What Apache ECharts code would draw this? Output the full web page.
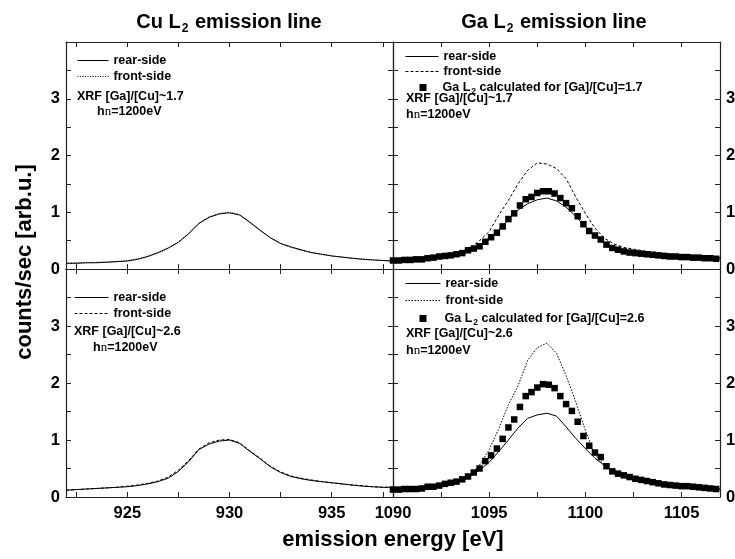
<!DOCTYPE html>
<html>
<head>
<meta charset="utf-8">
<script src="https://cdn.jsdelivr.net/npm/echarts@6/dist/echarts.min.js"></script>
<style>
  html, body { margin: 0; padding: 0; background: #fff; }
  #chart { width: 735px; height: 559px; }
</style>
</head>
<body>
<div id="chart"></div>
<script>
// Cu L2 panels (left)
const cuEnergy = [922, 922.5, 923, 923.5, 924, 924.5, 925, 925.5, 926, 926.5, 927, 927.5, 928, 928.5, 929, 929.5,
    930, 930.5, 931, 931.5, 932, 932.5, 933, 933.5, 934, 934.5, 935, 935.5, 936, 936.5, 937, 937.5, 938];
const cuRear17 = [0.10, 0.10, 0.11, 0.11, 0.12, 0.13, 0.14, 0.17, 0.22, 0.29, 0.37, 0.47, 0.62, 0.80, 0.91, 0.97,
    0.99, 0.95, 0.82, 0.68, 0.55, 0.45, 0.39, 0.34, 0.29, 0.26, 0.23, 0.21, 0.19, 0.17, 0.16, 0.15, 0.14];
const cuFront17 = [0.10, 0.11, 0.11, 0.12, 0.12, 0.13, 0.15, 0.18, 0.22, 0.28, 0.36, 0.48, 0.63, 0.81, 0.92, 0.98,
    1.00, 0.96, 0.83, 0.69, 0.55, 0.45, 0.38, 0.33, 0.29, 0.26, 0.23, 0.21, 0.19, 0.18, 0.16, 0.15, 0.14];
const cuRear26 = [0.12, 0.13, 0.14, 0.15, 0.16, 0.17, 0.18, 0.20, 0.23, 0.27, 0.33, 0.45, 0.62, 0.83, 0.93, 0.98,
    1.00, 0.94, 0.80, 0.67, 0.53, 0.43, 0.36, 0.32, 0.29, 0.27, 0.25, 0.23, 0.21, 0.19, 0.18, 0.17, 0.17];
const cuFront26 = [0.12, 0.13, 0.14, 0.15, 0.16, 0.17, 0.19, 0.21, 0.24, 0.28, 0.35, 0.47, 0.64, 0.84, 0.95, 1.00,
    1.01, 0.95, 0.81, 0.68, 0.54, 0.44, 0.37, 0.33, 0.30, 0.27, 0.25, 0.23, 0.21, 0.20, 0.18, 0.17, 0.17];

// Ga L2 panels (right), measured lines
const gaEnergy = [1090, 1090.5, 1091, 1091.5, 1092, 1092.5, 1093, 1093.5, 1094, 1094.5, 1095, 1095.5, 1096, 1096.5,
    1097, 1097.5, 1098, 1098.5, 1099, 1099.5, 1100, 1100.5, 1101, 1101.5, 1102, 1102.5, 1103, 1103.5, 1104, 1104.5,
    1105, 1105.5, 1106, 1106.5, 1107];
const gaRear17 = [0.15, 0.15, 0.16, 0.17, 0.19, 0.21, 0.24, 0.27, 0.33, 0.40, 0.52, 0.68, 0.87, 1.04,
    1.15, 1.22, 1.25, 1.20, 1.09, 0.93, 0.74, 0.58, 0.44, 0.36, 0.31, 0.28, 0.26, 0.25, 0.23, 0.22,
    0.21, 0.20, 0.19, 0.18, 0.17];
const gaFront17 = [0.15, 0.15, 0.16, 0.17, 0.19, 0.21, 0.25, 0.30, 0.37, 0.50, 0.66, 0.95, 1.21, 1.50,
    1.74, 1.87, 1.85, 1.77, 1.59, 1.27, 0.98, 0.72, 0.54, 0.44, 0.38, 0.35, 0.32, 0.30, 0.28, 0.26,
    0.24, 0.23, 0.22, 0.21, 0.20];
const gaRear26 = [0.13, 0.13, 0.14, 0.15, 0.17, 0.20, 0.23, 0.27, 0.36, 0.47, 0.61, 0.80, 1.00, 1.21,
    1.38, 1.44, 1.47, 1.42, 1.23, 1.03, 0.85, 0.68, 0.55, 0.44, 0.38, 0.34, 0.30, 0.27, 0.24, 0.22,
    0.20, 0.19, 0.17, 0.15, 0.14];
const gaFront26 = [0.13, 0.13, 0.14, 0.15, 0.17, 0.20, 0.24, 0.30, 0.39, 0.56, 0.83, 1.20, 1.62, 1.95,
    2.40, 2.62, 2.70, 2.52, 2.13, 1.67, 1.17, 0.74, 0.56, 0.45, 0.39, 0.34, 0.30, 0.27, 0.24, 0.22,
    0.20, 0.19, 0.17, 0.16, 0.14];

// Ga L2 calculated (squares)
const calcEnergy = [1090.0, 1090.3, 1090.6, 1090.9, 1091.2, 1091.5, 1091.8, 1092.1, 1092.4, 1092.7,
    1093.0, 1093.3, 1093.6, 1093.9, 1094.2, 1094.5, 1094.8, 1095.1, 1095.4, 1095.7,
    1096.0, 1096.3, 1096.6, 1096.9, 1097.2, 1097.5, 1097.8, 1098.1, 1098.4, 1098.7,
    1099.0, 1099.3, 1099.6, 1099.9, 1100.2, 1100.5, 1100.8, 1101.1, 1101.4, 1101.7,
    1102.0, 1102.3, 1102.6, 1102.9, 1103.2, 1103.5, 1103.8, 1104.1, 1104.4, 1104.7,
    1105.0, 1105.3, 1105.6, 1105.9, 1106.2, 1106.5, 1106.8];
const gaCalc17 = [0.15, 0.15, 0.16, 0.16, 0.17, 0.17, 0.19, 0.20, 0.22, 0.23,
    0.24, 0.26, 0.28, 0.33, 0.36, 0.40, 0.48, 0.56, 0.64, 0.75,
    0.88, 0.98, 1.12, 1.23, 1.27, 1.34, 1.37, 1.37, 1.33, 1.25,
    1.16, 1.07, 0.93, 0.79, 0.67, 0.59, 0.52, 0.43, 0.37, 0.34,
    0.31, 0.29, 0.28, 0.27, 0.26, 0.25, 0.24, 0.23, 0.22, 0.22,
    0.21, 0.21, 0.20, 0.20, 0.19, 0.19, 0.18];
const gaCalc26 = [0.13, 0.13, 0.14, 0.14, 0.14, 0.15, 0.18, 0.18, 0.20, 0.23,
    0.25, 0.27, 0.31, 0.36, 0.43, 0.50, 0.63, 0.73, 0.85, 1.02,
    1.22, 1.36, 1.58, 1.77, 1.84, 1.92, 1.98, 1.97, 1.91, 1.77,
    1.63, 1.51, 1.32, 1.07, 0.90, 0.78, 0.70, 0.54, 0.45, 0.41,
    0.38, 0.35, 0.32, 0.30, 0.28, 0.26, 0.24, 0.22, 0.21, 0.20,
    0.19, 0.19, 0.18, 0.17, 0.16, 0.15, 0.14];

// ticks
const cuLabelTicks = [925, 930, 935];
const cuTickMarks = [922.5, 925, 927.5, 930, 932.5, 935, 937.5];
const gaLabelTicks = [1090, 1095, 1100, 1105];
const gaTickMarks = [1090, 1092.5, 1095, 1097.5, 1100, 1102.5, 1105];
const yLabelTicks = [0, 1, 2, 3];
const yTickMarks = [0, 0.5, 1, 1.5, 2, 2.5, 3, 3.5, 4];

const FONT = 'Liberation Sans, Arial, sans-serif';
const legendNames = {
    rearA: 'rear-side', frontA: 'front-side',
    rearB: 'rear-side', frontB: 'front-side',
    calcB: '{g|}{t|Ga L}{s|2}{t| calculated for [Ga]/[Cu]=1.7}',
    rearC: 'rear-side', frontC: 'front-side',
    rearD: 'rear-side', frontD: 'front-side',
    calcD: '{h|}{t|Ga L}{s|2}{t| calculated for [Ga]/[Cu]=2.6}'
};

function pair(xs, ys) {
    return xs.map((x, i) => [x, ys[i]]);
}

function makeX(gridIndex, position, range, labels, ticks, showLabel) {
    return {
        type: 'value',
        gridIndex,
        position,
        min: range[0],
        max: range[1],
        axisLine: { show: true, onZero: false, lineStyle: { color: '#222', width: 1.2 } },
        axisTick: { show: true, inside: true, length: 5, customValues: ticks, lineStyle: { color: '#222' } },
        axisLabel: {
            show: showLabel, customValues: labels, margin: 8,
            formatter: v => String(v),
            fontSize: 16.5, fontWeight: 'bold', fontFamily: FONT, color: '#000'
        },
        splitLine: { show: false }
    };
}

function makeY(gridIndex, position, showLabel) {
    return {
        type: 'value',
        gridIndex,
        position,
        min: 0,
        max: 4,
        axisLine: { show: true, onZero: false, lineStyle: { color: '#222', width: 1.2 } },
        axisTick: { show: true, inside: true, length: 5, customValues: yTickMarks, lineStyle: { color: '#222' } },
        axisLabel: {
            show: showLabel, customValues: yLabelTicks, margin: 6,
            formatter: v => String(v),
            fontSize: 16.5, fontWeight: 'bold', fontFamily: FONT, color: '#000'
        },
        splitLine: { show: false }
    };
}

function lineSeries(name, xi, yi, xs, ys, dash) {
    return {
        name,
        type: 'line',
        xAxisIndex: xi,
        yAxisIndex: yi,
        data: pair(xs, ys),
        symbol: 'none',
        showSymbol: false,
        lineStyle: { color: '#000', width: 1, type: dash },
        itemStyle: { color: '#000' },
        z: 3
    };
}

function squareSeries(name, xi, yi, xs, ys) {
    return {
        name,
        type: 'scatter',
        xAxisIndex: xi,
        yAxisIndex: yi,
        data: pair(xs, ys),
        symbol: 'rect',
        symbolSize: 6.5,
        itemStyle: { color: '#000', opacity: 1 },
        clip: false,
        z: 4
    };
}

const legendText = {
    fontSize: 12.5, fontWeight: 'bold', fontFamily: FONT, color: '#000', lineHeight: 13,
    rich: {
        t: { fontSize: 12.5, fontWeight: 'bold', fontFamily: FONT, color: '#000', lineHeight: 13 },
        s: { fontSize: 8.5, fontWeight: 'bold', fontFamily: FONT, color: '#000', lineHeight: 9, padding: [8, 0, 0, 1] },
        g: { width: 11, lineHeight: 13 },
        h: { width: 13, lineHeight: 13 }
    }
};

// legend for the measured lines: hide the symbol that line legends add
function lineLegend(data, left, top, itemWidth, textGap, gap) {
    return {
        data,
        orient: 'vertical',
        left,
        top,
        padding: 0,
        itemWidth,
        itemHeight: 13,
        itemGap: gap,
        itemTextGap: textGap,
        selectedMode: false,
        itemStyle: { color: 'rgba(0,0,0,0)', borderWidth: 0 },
        lineStyle: { width: 1 },
        formatter: name => legendNames[name],
        textStyle: legendText
    };
}

function squareLegend(name, left, top) {
    return {
        data: [{ name, icon: 'rect' }],
        orient: 'vertical',
        left,
        top,
        padding: 0,
        itemWidth: 7,
        itemHeight: 7,
        itemTextGap: 6,
        selectedMode: false,
        formatter: n => legendNames[n],
        textStyle: legendText
    };
}

function note(text, x, y) {
    return {
        type: 'text',
        x, y,
        style: {
            text,
            fill: '#000',
            font: 'bold 12.5px ' + FONT,
            textVerticalAlign: 'middle',
            verticalAlign: 'middle',
            rich: {
                b: { fontSize: 12.5, fontWeight: 'bold', fontFamily: FONT, fill: '#000' },
                n: { fontSize: 13, fontFamily: 'Liberation Serif, serif', fill: '#000' }
            }
        }
    };
}

function heading(text, x, y) {
    return {
        type: 'text',
        x, y,
        style: {
            text,
            fill: '#000',
            textAlign: 'center', align: 'center',
            textVerticalAlign: 'middle', verticalAlign: 'middle',
            rich: {
                m: { fontSize: 20, fontWeight: 'bold', fontFamily: FONT, fill: '#000', lineHeight: 24 },
                s: { fontSize: 12, fontWeight: 'bold', fontFamily: FONT, fill: '#000', lineHeight: 12, padding: [14, 1, 0, 1] }
            }
        }
    };
}

const chart = echarts.init(document.getElementById('chart'));

const grids = [
    { left: 66, top: 42, width: 327, height: 227 },
    { left: 393, top: 42, width: 327, height: 227 },
    { left: 66, top: 269, width: 327, height: 228 },
    { left: 393, top: 269, width: 327, height: 228 }
].map(g => Object.assign({ outerBoundsMode: 'none', containLabel: false }, g));

const cuRange = [922, 938];
const gaRange = [1090, 1107];

// x axes: 0..3 bottom, 4..7 top
const xAxes = [
    makeX(0, 'bottom', cuRange, cuLabelTicks, cuTickMarks, false),
    makeX(1, 'bottom', gaRange, gaLabelTicks, gaTickMarks, false),
    makeX(2, 'bottom', cuRange, cuLabelTicks, cuTickMarks, true),
    makeX(3, 'bottom', gaRange, gaLabelTicks, gaTickMarks, true),
    makeX(0, 'top', cuRange, cuLabelTicks, cuTickMarks, false),
    makeX(1, 'top', gaRange, gaLabelTicks, gaTickMarks, false),
    makeX(2, 'top', cuRange, cuLabelTicks, cuTickMarks, false),
    makeX(3, 'top', gaRange, gaLabelTicks, gaTickMarks, false)
];
// y axes: 0..3 left, 4..7 right
const yAxes = [
    makeY(0, 'left', true),
    makeY(1, 'left', false),
    makeY(2, 'left', true),
    makeY(3, 'left', false),
    makeY(0, 'right', false),
    makeY(1, 'right', true),
    makeY(2, 'right', false),
    makeY(3, 'right', true)
];

const option = {
    backgroundColor: '#fff',
    animation: false,
    grid: grids,
    xAxis: xAxes,
    yAxis: yAxes,
    legend: [
        lineLegend(['rearA', 'frontA'], 77, 54, 31, 8, 3),
        lineLegend(['rearB', 'frontB'], 405, 50, 33, 4, 2),
        squareLegend('calcB', 419.5, 79),
        lineLegend(['rearC', 'frontC'], 74, 291, 34, 5, 3),
        lineLegend(['rearD', 'frontD'], 405, 277, 35, 8, 4),
        squareLegend('calcD', 419.5, 310)
    ],
    series: [
        lineSeries('rearA', 0, 0, cuEnergy, cuRear17, 'solid'),
        lineSeries('frontA', 0, 0, cuEnergy, cuFront17, [1, 1.5]),
        lineSeries('rearB', 1, 1, gaEnergy, gaRear17, 'solid'),
        lineSeries('frontB', 1, 1, gaEnergy, gaFront17, [3, 2]),
        squareSeries('calcB', 1, 1, calcEnergy, gaCalc17),
        lineSeries('rearC', 2, 2, cuEnergy, cuRear26, 'solid'),
        lineSeries('frontC', 2, 2, cuEnergy, cuFront26, [3, 2]),
        lineSeries('rearD', 3, 3, gaEnergy, gaRear26, 'solid'),
        lineSeries('frontD', 3, 3, gaEnergy, gaFront26, [1.5, 1.5]),
        squareSeries('calcD', 3, 3, calcEnergy, gaCalc26)
    ],
    graphic: [
        heading('{m|Cu L}{s|2}{m| emission line}', 229, 22),
        heading('{m|Ga L}{s|2}{m| emission line}', 554, 22),
        {
            type: 'text',
            x: 25, y: 262,
            rotation: Math.PI / 2,
            style: {
                text: 'counts/sec [arb.u.]',
                fill: '#000',
                font: 'bold 22px ' + FONT,
                textAlign: 'center', align: 'center',
                textVerticalAlign: 'middle', verticalAlign: 'middle'
            }
        },
        {
            type: 'text',
            x: 393, y: 540,
            style: {
                text: 'emission energy [eV]',
                fill: '#000',
                font: 'bold 22px ' + FONT,
                textAlign: 'center', align: 'center',
                textVerticalAlign: 'middle', verticalAlign: 'middle'
            }
        },
        note('XRF [Ga]/[Cu]~1.7', 77, 97),
        note('{b|h}{n|n}{b|=1200eV}', 97, 112),
        note('XRF [Ga]/[Cu]~1.7', 406, 99),
        note('{b|h}{n|n}{b|=1200eV}', 406, 115),
        note('XRF [Ga]/[Cu]~2.6', 74, 332),
        note('{b|h}{n|n}{b|=1200eV}', 93, 348),
        note('XRF [Ga]/[Cu]~2.6', 406, 334),
        note('{b|h}{n|n}{b|=1200eV}', 406, 351)
    ]
};

chart.setOption(option);
</script>
</body>
</html>
